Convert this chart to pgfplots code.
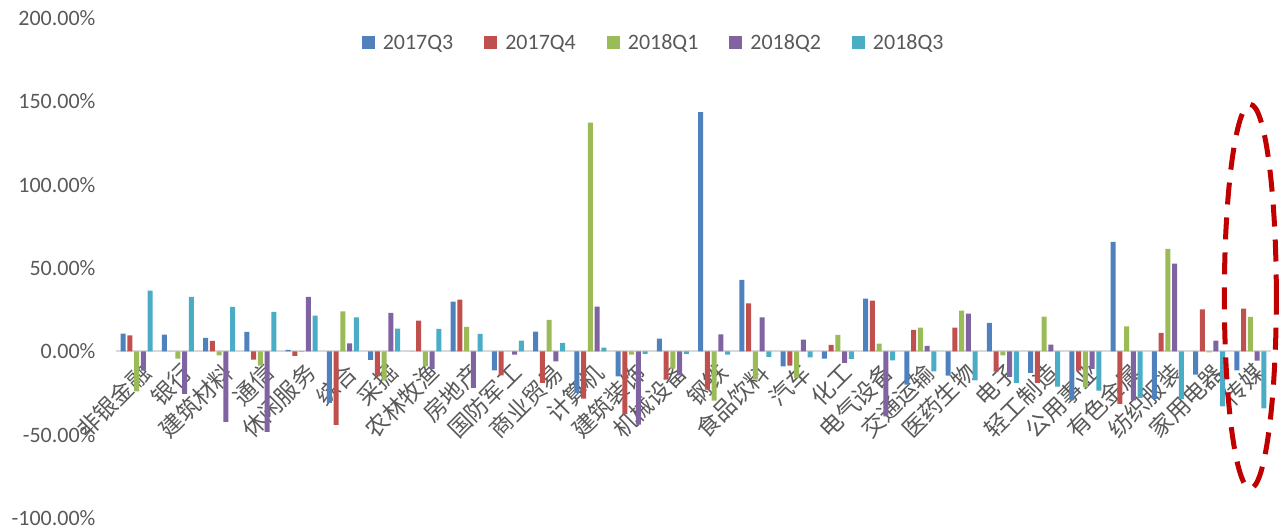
\documentclass[border=0pt]{standalone}
\usepackage{pgfplots}
\pgfplotsset{compat=1.18}
\usepackage{pgfplotstable}
\usepackage{fontspec}
\setmainfont{Carlito}
\newfontfamily\cjk{Noto Sans CJK SC}
\definecolor{cA}{HTML}{4F81BD}
\definecolor{cB}{HTML}{C0504D}
\definecolor{cC}{HTML}{9BBB59}
\definecolor{cD}{HTML}{8064A2}
\definecolor{cE}{HTML}{4BACC6}
\definecolor{txt}{HTML}{595959}
\definecolor{zl}{HTML}{D9D9D9}
\definecolor{ell}{HTML}{C00000}

\pgfplotstableread{
idx a b c d e
0 10.6 9.6 -24 -11.6 36.4
1 10 0 -4.4 -25.6 32.6
2 8 6.2 -2.4 -42.4 26.6
3 11.6 -5 -8.6 -48.4 23.6
4 0.8 -2.8 -0.4 32.6 21.4
5 -31 -44.2 24 4.8 20.4
6 -5.2 -15 -17.4 23 13.6
7 0 18.4 -9 -10.6 13.4
8 29.8 31 14.6 -22 10.4
9 -11.4 -14.4 0 -2 6.4
10 11.8 -19 18.8 -6 5
11 -25 -28.4 137.2 26.8 2.2
12 -15 -37.6 -2 -44 -1.6
13 7.6 -17 -10.4 -14.4 -1.6
14 143.5 -23 -29.6 10.2 -2
15 42.8 28.8 -17 20.4 -3.4
16 -9 -8.6 -16 7 -3.6
17 -4.4 3.8 9.8 -7 -4.6
18 31.6 30.4 4.6 -39 -5.4
19 -20 12.8 14.2 3.2 -12
20 -14.6 14.2 24.4 22.6 -17.4
21 17 -12.2 -2.4 -15.4 -19
22 -13 -19 20.8 4 -21.2
23 -29.4 -11.6 -21.6 -10.6 -23.6
24 65.6 -31.6 15 -29.4 -28
25 -28.6 11 61.4 52.6 -28.6
26 -14 25.2 -0.6 6.4 -33
27 -11.4 25.6 20.6 -5.6 -34.2
}\datatable

\begin{document}
\begin{tikzpicture}[x=1pt,y=1pt]
\useasboundingbox (0,0) rectangle (1283,529);
\begin{axis}[
  at={(116pt,11pt)}, anchor=south west,
  scale only axis, width=1155pt, height=500pt,
  xmin=-0.5, xmax=27.5, ymin=-100, ymax=200,
  ybar=1.7pt, bar width=5pt,
  axis x line=middle, axis y line=left,
  x axis line style={-, draw=zl, line width=2pt},
  y axis line style={draw=none},
  major tick length=0pt,
  xtick={0,...,27},
  xticklabels={非银金融,银行,建筑材料,通信,休闲服务,综合,采掘,农林牧渔,房地产,国防军工,商业贸易,计算机,建筑装饰,机械设备,钢铁,食品饮料,汽车,化工,电气设备,交通运输,医药生物,电子,轻工制造,公用事业,有色金属,纺织服装,家用电器,传媒},
  xticklabel style={yshift=-8pt, xshift=2pt, rotate=45, anchor=north east, inner sep=1pt, font=\cjk\fontsize{23}{23}\selectfont, text=txt},
  ytick={-100,-50,...,200},
  yticklabel={\pgfmathprintnumber[fixed,fixed zerofill,precision=2]{\tick}\%},
  yticklabel style={font=\fontsize{22}{22}\selectfont, text=txt, anchor=east, xshift=-17pt},
  /pgf/number format/assume math mode=true,
  legend columns=5,
  legend style={at={(0.4655,0.95)}, anchor=center, draw=none, fill=none,
    font=\fontsize{22}{22}\selectfont, text=txt,
    /tikz/every odd column/.append style={column sep=6pt},
    /tikz/every even column/.append style={column sep=29pt}},
  legend image code/.code={\fill[#1] (0pt,-6.5pt) rectangle (13pt,6.5pt);},
  clip=false,
]
\addplot[fill=cA, draw=none] table[x=idx, y=a] {\datatable};
\addplot[fill=cB, draw=none] table[x=idx, y=b] {\datatable};
\addplot[fill=cC, draw=none] table[x=idx, y=c] {\datatable};
\addplot[fill=cD, draw=none] table[x=idx, y=d] {\datatable};
\addplot[fill=cE, draw=none] table[x=idx, y=e] {\datatable};
\legend{2017Q3,2017Q4,2018Q1,2018Q2,2018Q3}
\draw[ell, line width=5pt, dash pattern=on 22pt off 13pt] (axis cs:27,32.9) ellipse [x radius=26pt, y radius=192pt];
\end{axis}
\end{tikzpicture}
\end{document}
